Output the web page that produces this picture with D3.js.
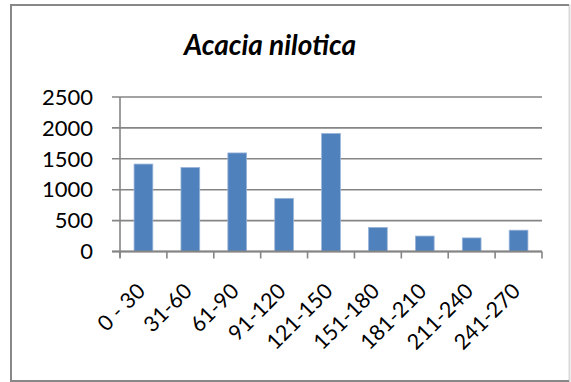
<!DOCTYPE html>
<html><head><meta charset="utf-8">
<script src="https://cdn.jsdelivr.net/npm/d3@7"></script>
<style>body{margin:0;background:#fff;}svg{display:block;}</style>
</head><body>
<script>
const categories = ["0 - 30","31-60","61-90","91-120","121-150","151-180","181-210","211-240","241-270"];
const values = [1415, 1360, 1595, 860, 1910, 390, 250, 220, 345];
const yTicks = [0, 500, 1000, 1500, 2000, 2500];
const title = "Acacia nilotica";

const W = 571, H = 382;
const svg = d3.select("body").append("svg").attr("width", W).attr("height", H);
const font = "Lato, 'Open Sans', sans-serif";

// frame
svg.append("rect").attr("x", 0).attr("y", 0).attr("width", W).attr("height", H).attr("fill", "#fff");
svg.append("path").attr("d", `M${W-1.5},4.5 L${W-1.5},${H}`).attr("stroke", "#d9d9d9").attr("stroke-width", 2).attr("fill","none");
svg.append("path").attr("d", `M11,${H} L11,5 L${W-2},5`).attr("stroke", "#888").attr("stroke-width", 2).attr("fill","none");
svg.append("line").attr("x1", 10).attr("x2", W-2).attr("y1", H-1).attr("y2", H-1).attr("stroke", "#888").attr("stroke-width", 2);

const x0 = 120, x1 = 542, yTop = 97, yBot = 251.5;
const x = d3.scaleBand().domain(categories).range([x0, x1]).paddingInner(0.6).paddingOuter(0.3);
const xb = d3.scaleLinear().domain([0, categories.length]).range([x0, x1]);
const y = d3.scaleLinear().domain([0, 2500]).range([yBot, yTop]);

// gridlines
svg.append("g").selectAll("line").data(yTicks).join("line")
  .attr("x1", x0 - 8).attr("x2", x1).attr("y1", d => y(d)).attr("y2", d => y(d))
  .attr("stroke", "#858585").attr("stroke-width", 1.6);

// bars
svg.append("g").selectAll("rect").data(values).join("rect")
  .attr("x", (d, i) => x(categories[i]))
  .attr("y", d => y(d))
  .attr("width", x.bandwidth())
  .attr("height", d => yBot - y(d))
  .attr("fill", "#4F81BD").attr("stroke", "#9bb5d9").attr("stroke-width", 0.8);

// y axis line
svg.append("line").attr("x1", x0).attr("x2", x0).attr("y1", yTop).attr("y2", yBot + 6)
  .attr("stroke", "#858585").attr("stroke-width", 1.6);
// x axis line
svg.append("line").attr("x1", x0 - 8).attr("x2", x1).attr("y1", yBot).attr("y2", yBot)
  .attr("stroke", "#858585").attr("stroke-width", 2);
// x ticks
svg.append("g").selectAll("line").data(d3.range(categories.length + 1)).join("line")
  .attr("x1", d => xb(d)).attr("x2", d => xb(d)).attr("y1", yBot).attr("y2", yBot + 7)
  .attr("stroke", "#858585").attr("stroke-width", 1.6);

// y labels
svg.append("g").selectAll("text").data(yTicks).join("text")
  .attr("x", 93).attr("y", d => y(d)).attr("dy", "0.35em")
  .attr("text-anchor", "end").attr("font-family", font).attr("font-size", 22)
  .attr("fill", "#000").text(d => d);

// x labels
svg.append("g").selectAll("text").data(categories).join("text")
  .attr("transform", (d, i) => `translate(${x(d) + x.bandwidth()/2 + 3},${yBot + 41}) rotate(-45)`)
  .attr("text-anchor", "end").attr("font-family", font).attr("font-size", 21.5)
  .attr("fill", "#000").text(d => d);

// title
svg.append("text").attr("x", 270).attr("y", 55).attr("text-anchor", "middle")
  .attr("font-family", font).attr("font-size", 28).attr("font-weight", "bold").attr("font-style", "italic")
  .attr("fill", "#000").text(title);
</script>
</body></html>
